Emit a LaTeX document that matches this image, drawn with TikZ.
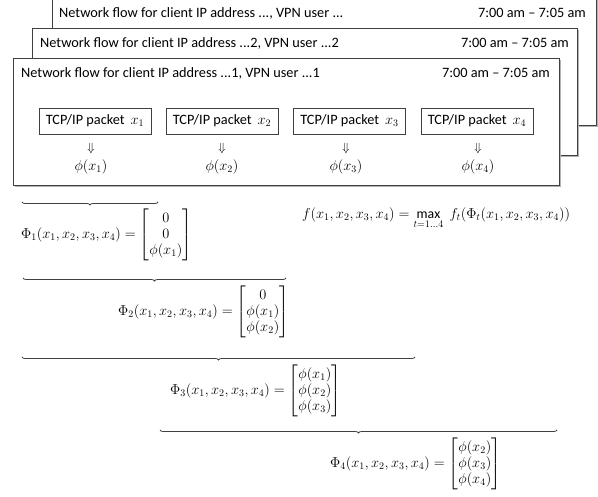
\documentclass[tikz,border=0pt]{standalone}
\usepackage{amsmath}
\usepackage{fontspec}
\setmainfont{Carlito}
\usetikzlibrary{decorations.pathreplacing,shadows}
\begin{document}
\begin{tikzpicture}[x=1pt,y=-1pt,
  flowbox/.style={draw=black!75, line width=0.8pt, fill=white, anchor=north west, inner sep=0pt,
    drop shadow={shadow xshift=1.2pt, shadow yshift=-1.2pt, fill=black!30, opacity=1}},
  pkt/.style={draw=black!75, line width=0.7pt, fill=white, minimum height=26pt, minimum width=112pt, inner sep=1pt, font=\fontsize{14.3}{16}\selectfont},
  ttl/.style={font=\fontsize{14.3}{16}\selectfont, inner sep=0pt},
  eq/.style={inner sep=0pt, font=\fontsize{13.8}{16}\selectfont},
  brc/.style={decorate, decoration={brace, mirror, amplitude=3pt}, draw=black!75, line width=0.8pt}]
\useasboundingbox (0,0) rectangle (598,497);
% flow boxes
\node[flowbox, minimum width=544pt, minimum height=131pt] (flow3) at (52,-6) {};
\node[ttl, anchor=west] (t3) at (59,13) {Network flow for client IP address ..., VPN user ...};
\node[ttl, anchor=east] (h3) at (586,13) {7:00 am -- 7:05 am};
\node[flowbox, minimum width=545pt, minimum height=127pt] (flow2) at (32,28) {};
\node[ttl, anchor=west] (t2) at (40,43) {Network flow for client IP address ...2, VPN user ...2};
\node[ttl, anchor=east] (h2) at (569,43) {7:00 am -- 7:05 am};
\node[flowbox, minimum width=546pt, minimum height=127pt] (flow1) at (13,58) {};
\node[ttl, anchor=west] (t1) at (21,73) {Network flow for client IP address ...1, VPN user ...1};
\node[ttl, anchor=east] (h1) at (550,73) {7:00 am -- 7:05 am};
% packets
\node[pkt] (p1) at (95,121) {TCP/IP packet\hspace{6pt}$x_1$};
\node[pkt] (p2) at (222,121) {TCP/IP packet\hspace{6pt}$x_2$};
\node[pkt] (p3) at (349.5,121) {TCP/IP packet\hspace{6pt}$x_3$};
\node[pkt] (p4) at (477,121) {TCP/IP packet\hspace{6pt}$x_4$};
\foreach \i/\xx in {1/91,2/222,3/346,4/478}{
  \node[inner sep=0pt, font=\fontsize{13}{15}\selectfont] (a\i) at (\xx,149) {$\Downarrow$};
  \node[eq] (phi\i) at (\xx,167) {$\phi(x_\i)$};
}
% equations
\node[eq, anchor=west] (F) at (302,218) {$f(x_1,x_2,x_3,x_4)=\max\limits_{t=1\ldots4}\; f_t(\Phi_t(x_1,x_2,x_3,x_4))$};
\node[eq, anchor=west] (E1) at (21,235) {$\Phi_1(x_1,x_2,x_3,x_4)=\begin{bmatrix}\,0\,\\0\\\phi(x_1)\end{bmatrix}$};
\node[eq, anchor=west] (E2) at (118,312) {$\Phi_2(x_1,x_2,x_3,x_4)=\begin{bmatrix}0\\\phi(x_1)\\\phi(x_2)\end{bmatrix}$};
\node[eq, anchor=west] (E3) at (170,391) {$\Phi_3(x_1,x_2,x_3,x_4)=\begin{bmatrix}\phi(x_1)\\\phi(x_2)\\\phi(x_3)\end{bmatrix}$};
\node[eq, anchor=west] (E4) at (330,464) {$\Phi_4(x_1,x_2,x_3,x_4)=\begin{bmatrix}\phi(x_2)\\\phi(x_3)\\\phi(x_4)\end{bmatrix}$};
% braces
\coordinate (b1l) at (22,202); \coordinate (b1r) at (158,202);
\coordinate (b2l) at (23,278); \coordinate (b2r) at (286,278);
\coordinate (b3l) at (22,357); \coordinate (b3r) at (415,357);
\coordinate (b4l) at (160,430); \coordinate (b4r) at (557,430);
\draw[brc] (b1l) -- (b1r);
\draw[brc] (b2l) -- (b2r);
\draw[brc] (b3l) -- (b3r);
\draw[brc] (b4l) -- (b4r);
\end{tikzpicture}
\end{document}
